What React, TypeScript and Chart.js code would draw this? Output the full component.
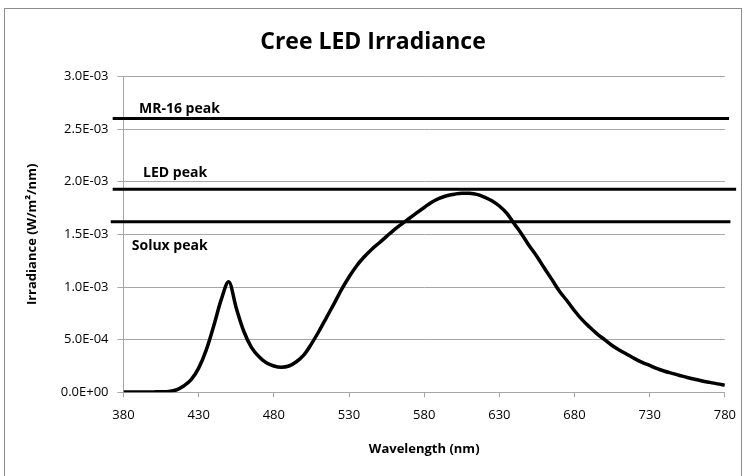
import { useEffect, useRef } from 'react';
import { Chart, registerables } from 'chart.js';

Chart.register(...registerables);

// ---- data ----
const wavelengths = [
  380, 385, 390, 395, 400, 405, 410, 415, 420, 425, 430, 435, 440, 445, 450, 455, 460, 465, 470, 475,
  480, 485, 490, 495, 500, 505, 510, 515, 520, 525, 530, 535, 540, 545, 550, 555, 560, 565, 570, 575,
  580, 585, 590, 595, 600, 605, 610, 615, 620, 625, 630, 635, 640, 645, 650, 655, 660, 665, 670, 675,
  680, 685, 690, 695, 700, 705, 710, 715, 720, 725, 730, 735, 740, 745, 750, 755, 760, 765, 770, 775, 780,
];
// irradiance in units of 1E-03 W/m²/nm
const irradianceMilli = [
  0.003, 0.003, 0.003, 0.003, 0.004, 0.005, 0.008, 0.022, 0.06, 0.12, 0.23, 0.4, 0.63, 0.88, 1.05, 0.8, 0.58, 0.43, 0.34, 0.28,
  0.25, 0.238, 0.25, 0.29, 0.355, 0.46, 0.58, 0.71, 0.84, 0.975, 1.095, 1.2, 1.285, 1.357, 1.418, 1.481, 1.543, 1.598, 1.651, 1.704,
  1.756, 1.806, 1.842, 1.867, 1.882, 1.892, 1.89, 1.88, 1.855, 1.82, 1.77, 1.7, 1.6, 1.5, 1.39, 1.29, 1.178, 1.07, 0.96, 0.87,
  0.775, 0.69, 0.62, 0.555, 0.5, 0.445, 0.4, 0.36, 0.32, 0.285, 0.255, 0.225, 0.2, 0.18, 0.16, 0.14, 0.124, 0.108, 0.094, 0.08, 0.068,
];

const refNames = ['MR-16 peak', 'LED peak', 'Solux peak'];
const refValues = [2.6e-3, 1.93e-3, 1.62e-3];
const refStartNm = [372.8, 372.8, 371.5];
const refEndNm = [782.8, 787.5, 783.7];

const titleText = 'Cree LED Irradiance';
const xTitle = 'Wavelength (nm)';
const yTitle = 'Irradiance (W/m²/nm)';

// ---- label placement (styling) ----
const refLabelNm = [390.3, 393, 385.5];
const refLabelDy = [-10, -16, 24];

const FONT = '"Open Sans", Lato, "DejaVu Sans", sans-serif';
const GRID = '#a6a6a6';

function fmtSci(v: number): string {
  if (Math.abs(v) < 1e-12) return '0.0E+00';
  let e = Math.floor(Math.log10(Math.abs(v)) + 1e-9);
  let m = v / Math.pow(10, e);
  let ms = m.toFixed(1);
  if (ms === '10.0') {
    e += 1;
    ms = '1.0';
  }
  const sign = e < 0 ? '-' : '+';
  const ae = Math.abs(e);
  return `${ms}E${sign}${ae < 10 ? '0' + ae : ae}`;
}

export default function App() {
  const ref = useRef<HTMLCanvasElement | null>(null);

  useEffect(() => {
    if (!ref.current) return;
    const decor = {
      id: 'decor',
      beforeDraw(chart: any) {
        const ctx = chart.ctx;
        ctx.save();
        ctx.strokeStyle = '#8c8c8c';
        ctx.lineWidth = 1;
        ctx.strokeRect(4.5, 8.5, 737, 520);
        ctx.restore();
      },
      afterDraw(chart: any) {
        const ctx = chart.ctx;
        const xs = chart.scales.x;
        const ys = chart.scales.y;
        ctx.save();
        ctx.fillStyle = '#000';
        ctx.font = `bold 23px ${FONT}`;
        ctx.textAlign = 'center';
        ctx.textBaseline = 'middle';
        ctx.fillText(titleText, 373, 42);
        ctx.font = `bold 14px ${FONT}`;
        ctx.textAlign = 'left';
        refNames.forEach((name, i) => {
          const x = xs.getPixelForValue(refLabelNm[i]);
          const y = ys.getPixelForValue(refValues[i]) + refLabelDy[i];
          ctx.fillText(name, x, y);
        });
        ctx.restore();
      },
    };

    const datasets: any[] = [
      {
        label: 'Cree LED',
        data: wavelengths.map((w, i) => ({ x: w, y: irradianceMilli[i] * 1e-3 })),
        borderColor: '#000',
        borderWidth: 3.5,
        pointRadius: 0,
        cubicInterpolationMode: 'monotone',
        fill: false,
      },
      ...refNames.map((n, i) => ({
        label: n,
        data: [
          { x: refStartNm[i], y: refValues[i] },
          { x: refEndNm[i], y: refValues[i] },
        ],
        borderColor: '#000',
        borderWidth: 3,
        pointRadius: 0,
        clip: false,
        fill: false,
      })),
    ];

    const chart = new Chart(ref.current, {
      type: 'line',
      data: { datasets },
      plugins: [decor],
      options: {
        responsive: false,
        animation: false,
        layout: { padding: { left: 0, right: 12, top: 76.5, bottom: 0 } },
        plugins: { legend: { display: false }, tooltip: { enabled: false }, title: { display: false } },
        font: { family: FONT },
        scales: {
          x: {
            type: 'linear',
            min: 380,
            max: 780,
            afterFit: (s: any) => {
              s.height = 83.7;
            },
            ticks: {
              stepSize: 50,
              padding: 10,
              color: '#000',
              font: { family: FONT, size: 13 },
              maxRotation: 0,
              callback: (v: any) => String(v),
            },
            grid: { drawOnChartArea: false, drawTicks: true, tickLength: 5, color: GRID },
            border: { display: true, color: GRID, width: 1 },
            title: {
              display: true,
              text: xTitle,
              color: '#000',
              font: { family: FONT, size: 13, weight: 'bold' },
              padding: { top: 0, bottom: 19 },
            },
          },
          y: {
            type: 'linear',
            min: 0,
            max: 0.003,
            afterFit: (s: any) => {
              s.width = 123.5;
            },
            ticks: {
              stepSize: 0.0005,
              padding: 9,
              color: '#000',
              font: { family: FONT, size: 13 },
              callback: (v: any) => fmtSci(Number(v)),
            },
            grid: { drawOnChartArea: true, drawTicks: true, tickLength: 6, color: GRID },
            border: { display: true, color: GRID, width: 1 },
            title: {
              display: true,
              text: yTitle,
              color: '#000',
              font: { family: FONT, size: 13, weight: 'bold' },
              padding: { top: 24, bottom: 0 },
            },
          },
        },
      } as any,
    });
    return () => chart.destroy();
  }, []);

  return (
    <div style={{ position: 'absolute', left: 0, top: 0, width: 746, height: 476, background: '#fff' }}>
      <canvas ref={ref} width={746} height={476} style={{ display: 'block' }} />
    </div>
  );
}
